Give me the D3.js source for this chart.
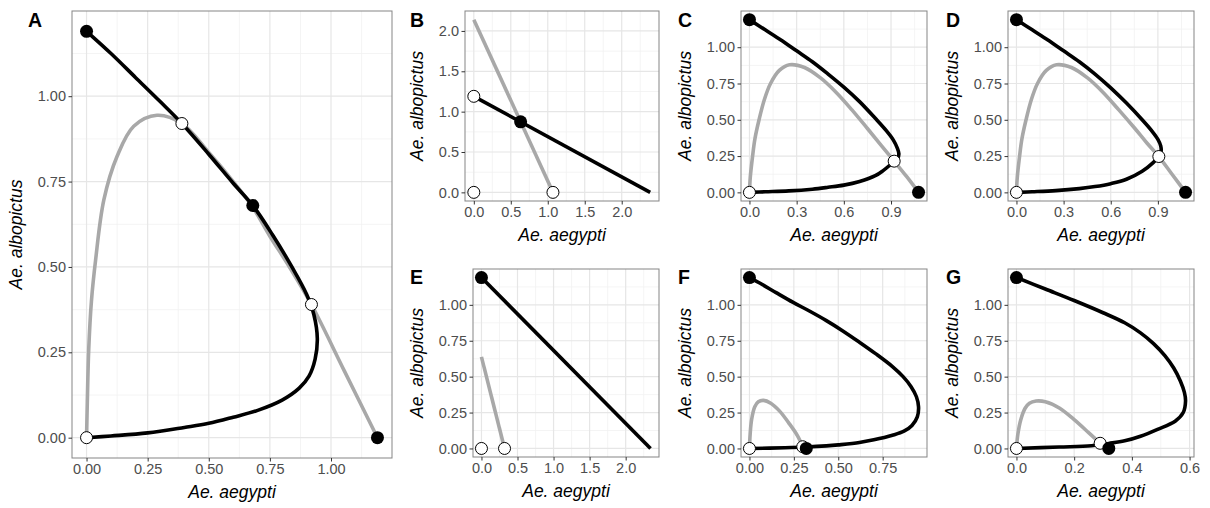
<!DOCTYPE html>
<html>
<head>
<meta charset="utf-8">
<script src="https://cdn.jsdelivr.net/npm/d3@7"></script>
<style>
  body { margin: 0; background: #fff; }
  svg { display: block; font-family: "Liberation Sans", Arial, sans-serif; }
  .tick text { fill: #4d4d4d; font-size: 14.5px; }
  .tick line { stroke: #333; }
</style>
</head>
<body>
<svg id="fig" width="1210" height="508"></svg>
<script>
// ---- values (Ae. aegypti on x, Ae. albopictus on y) ----
const aBlack = [[0,1.19],[0.1,1.125],[0.2,1.055],[0.3,0.985],[0.39,0.92],[0.5,0.83],[0.6,0.745],[0.68,0.68],[0.76,0.595],[0.84,0.5],[0.9,0.42],[0.93,0.36],[0.944,0.29],[0.935,0.23],[0.91,0.18],[0.87,0.145],[0.8,0.11],[0.7,0.08],[0.6,0.06],[0.5,0.042],[0.4,0.03],[0.25,0.014],[0.1,0.005],[0,0]];
const aGray = [[0,0],[0.003,0.1],[0.009,0.26],[0.02,0.4],[0.037,0.52],[0.071,0.697],[0.125,0.824],[0.193,0.912],[0.288,0.944],[0.39,0.92],[0.5,0.835],[0.6,0.75],[0.68,0.675],[0.75,0.59],[0.83,0.5],[0.92,0.39],[1.055,0.195],[1.19,0]];
const aFilled = [[0,1.19],[0.68,0.68],[1.19,0]];
const aOpen = [[0,0],[0.39,0.92],[0.92,0.39]];

const bBlack = [[0,1.19],[2.385,0]];
const bGray = [[0,2.14],[1.07,0]];
const bFilled = [[0.633,0.874]];
const bOpen = [[0,0],[0,1.19],[1.07,0]];

const cBlack = [[0,1.19],[0.1,1.12],[0.2,1.05],[0.3,0.975],[0.4,0.9],[0.5,0.815],[0.6,0.725],[0.7,0.625],[0.8,0.51],[0.87,0.425],[0.915,0.36],[0.94,0.305],[0.95,0.265],[0.942,0.235],[0.92,0.215],[0.89,0.185],[0.85,0.15],[0.8,0.115],[0.7,0.075],[0.6,0.05],[0.5,0.035],[0.4,0.022],[0.25,0.01],[0.1,0.004],[0,0]];
const cGray = [[0,0],[0.005,0.1],[0.02,0.25],[0.035,0.37],[0.061,0.5],[0.095,0.64],[0.134,0.75],[0.19,0.84],[0.255,0.879],[0.35,0.86],[0.45,0.79],[0.55,0.69],[0.65,0.57],[0.75,0.44],[0.84,0.32],[0.92,0.215],[1.0,0.108],[1.075,0]];
const cFilled = [[0,1.19],[1.075,0]];
const cOpen = [[0,0],[0.92,0.215]];

const dBlack = [[0,1.19],[0.1,1.12],[0.2,1.05],[0.3,0.975],[0.4,0.9],[0.5,0.815],[0.6,0.72],[0.7,0.615],[0.8,0.5],[0.86,0.425],[0.9,0.365],[0.918,0.32],[0.92,0.28],[0.906,0.247],[0.87,0.205],[0.8,0.145],[0.7,0.09],[0.6,0.06],[0.5,0.04],[0.4,0.026],[0.25,0.012],[0.1,0.004],[0.01,0]];
const dGray = [[0,0],[0.005,0.1],[0.02,0.25],[0.035,0.37],[0.061,0.5],[0.095,0.64],[0.134,0.75],[0.19,0.84],[0.255,0.879],[0.35,0.86],[0.45,0.79],[0.55,0.69],[0.65,0.57],[0.75,0.445],[0.83,0.34],[0.906,0.247],[0.99,0.125],[1.076,0]];
const dFilled = [[0,1.19],[1.076,0]];
const dOpen = [[0,0],[0.906,0.247]];

const eBlack = [[0,1.19],[2.345,0]];
const eGray = [[0,0.638],[0.32,0]];
const eFilled = [[0,1.19]];
const eOpen = [[0,0],[0.32,0]];

const fBlack = [[0,1.19],[0.06,1.15],[0.15,1.085],[0.246,1.017],[0.34,0.955],[0.433,0.89],[0.53,0.815],[0.619,0.74],[0.71,0.66],[0.805,0.57],[0.865,0.5],[0.91,0.43],[0.94,0.36],[0.952,0.29],[0.945,0.22],[0.915,0.16],[0.87,0.12],[0.805,0.092],[0.7,0.06],[0.619,0.041],[0.5,0.025],[0.433,0.018],[0.32,0.01],[0.2,0.005],[0,0]];
const fGray = [[0,0],[0.004,0.1],[0.012,0.2],[0.03,0.29],[0.05,0.325],[0.079,0.335],[0.12,0.315],[0.17,0.26],[0.22,0.18],[0.27,0.09],[0.3,0.012]];
const fFilled = [[0,1.19],[0.32,0]];
const fOpen = [[0,0],[0.3,0.012]];

const gBlack = [[0,1.19],[0.1,1.11],[0.2,1.03],[0.3,0.945],[0.375,0.875],[0.43,0.805],[0.475,0.73],[0.515,0.645],[0.545,0.56],[0.568,0.47],[0.582,0.39],[0.586,0.33],[0.578,0.25],[0.55,0.19],[0.489,0.133],[0.43,0.085],[0.375,0.053],[0.32,0.035],[0.26,0.019],[0.148,0.01],[0,0]];
const gGray = [[0,0],[0.005,0.1],[0.015,0.2],[0.03,0.28],[0.045,0.315],[0.068,0.33],[0.1,0.325],[0.15,0.28],[0.2,0.2],[0.25,0.11],[0.29,0.036]];
const gFilled = [[0,1.19],[0.32,0]];
const gOpen = [[0,0],[0.29,0.036]];

// tick labels
const ticks2 = [0, 0.25, 0.5, 0.75, 1.0];   // y for A, C-G
const ticksAx = [0, 0.25, 0.5, 0.75, 1.0];
const ticksB = [0, 0.5, 1.0, 1.5, 2.0];     // B x/y, E x
const ticksCD = [0, 0.3, 0.6, 0.9];
const ticksF = [0, 0.25, 0.5, 0.75];
const ticksG = [0, 0.2, 0.4, 0.6];

const xTitle = "Ae. aegypti";
const yTitle = "Ae. albopictus";

// ---- layout (pixel boxes of each panel: left, right, top, bottom) ----
const panels = [
  {id: "A", black: aBlack, gray: aGray, filled: aFilled, open: aOpen, xt: ticksAx, yt: ticks2, fx: ".2f", fy: ".2f", box: [72, 392, 11, 458], letter: [28, 27]},
  {id: "B", black: bBlack, gray: bGray, filled: bFilled, open: bOpen, xt: ticksB, yt: ticksB, fx: ".1f", fy: ".1f", box: [465, 659, 11, 201], letter: [410, 27]},
  {id: "C", black: cBlack, gray: cGray, filled: cFilled, open: cOpen, xt: ticksCD, yt: ticks2, fx: ".1f", fy: ".2f", box: [741, 927, 11, 201], letter: [678, 27]},
  {id: "D", black: dBlack, gray: dGray, filled: dFilled, open: dOpen, xt: ticksCD, yt: ticks2, fx: ".1f", fy: ".2f", box: [1008, 1194, 11, 201], letter: [946, 27]},
  {id: "E", black: eBlack, gray: eGray, filled: eFilled, open: eOpen, xt: ticksB, yt: ticks2, fx: ".1f", fy: ".2f", box: [473, 659, 269, 457], letter: [410, 284]},
  {id: "F", black: fBlack, gray: fGray, filled: fFilled, open: fOpen, xt: ticksF, yt: ticks2, fx: ".2f", fy: ".2f", box: [741, 927, 269, 457], letter: [678, 284]},
  {id: "G", black: gBlack, gray: gGray, filled: gFilled, open: gOpen, xt: ticksG, yt: ticks2, fx: ".1f", fy: ".2f", box: [1008, 1194, 269, 457], letter: [946, 284]}
];

const svg = d3.select("#fig");
const defs = svg.append("defs");

// minor breaks halfway between majors, as ggplot does
function minors(t, dom) {
  const step = t[1] - t[0];
  const out = [];
  for (let v = t[0] - step / 2; v <= dom[1] + 1e-9; v += step) {
    if (v >= dom[0] && v <= dom[1]) out.push(v);
  }
  return out;
}

function drawPanel(p) {
  const [x0, x1, y0, y1] = p.box;
  const all = [...p.black, ...p.gray, ...p.filled, ...p.open];
  const ex = d3.extent(all, d => d[0]);
  const ey = d3.extent(all, d => d[1]);
  const padX = (ex[1] - ex[0]) * 0.05, padY = (ey[1] - ey[0]) * 0.05;
  const x = d3.scaleLinear().domain([ex[0] - padX, ex[1] + padX]).range([x0, x1]);
  const y = d3.scaleLinear().domain([ey[0] - padY, ey[1] + padY]).range([y1, y0]);

  const g = svg.append("g");
  defs.append("clipPath").attr("id", "clip" + p.id)
    .append("rect").attr("x", x0).attr("y", y0).attr("width", x1 - x0).attr("height", y1 - y0);

  g.append("rect").attr("x", x0).attr("y", y0).attr("width", x1 - x0).attr("height", y1 - y0).attr("fill", "#fff");

  // grid
  const grid = g.append("g");
  grid.selectAll(".mx").data(minors(p.xt, x.domain())).join("line")
    .attr("x1", d => x(d)).attr("x2", d => x(d)).attr("y1", y0).attr("y2", y1)
    .attr("stroke", "#f1f1f1").attr("stroke-width", 0.8);
  grid.selectAll(".my").data(minors(p.yt, y.domain())).join("line")
    .attr("y1", d => y(d)).attr("y2", d => y(d)).attr("x1", x0).attr("x2", x1)
    .attr("stroke", "#f1f1f1").attr("stroke-width", 0.8);
  grid.selectAll(".Mx").data(p.xt).join("line")
    .attr("x1", d => x(d)).attr("x2", d => x(d)).attr("y1", y0).attr("y2", y1)
    .attr("stroke", "#e6e6e6").attr("stroke-width", 1.2);
  grid.selectAll(".My").data(p.yt).join("line")
    .attr("y1", d => y(d)).attr("y2", d => y(d)).attr("x1", x0).attr("x2", x1)
    .attr("stroke", "#e6e6e6").attr("stroke-width", 1.2);

  // curves
  const line = d3.line().x(d => x(d[0])).y(d => y(d[1])).curve(d3.curveCatmullRom.alpha(0.5));
  const marks = g.append("g").attr("clip-path", `url(#clip${p.id})`);
  marks.append("path").datum(p.gray).attr("d", line)
    .attr("fill", "none").attr("stroke", "#a8a8a8").attr("stroke-width", 3.6).attr("stroke-linecap", "butt");
  marks.append("path").datum(p.black).attr("d", line)
    .attr("fill", "none").attr("stroke", "#000").attr("stroke-width", 3.6).attr("stroke-linecap", "butt");

  marks.selectAll(".open").data(p.open).join("circle")
    .attr("cx", d => x(d[0])).attr("cy", d => y(d[1])).attr("r", 6)
    .attr("fill", "#fff").attr("stroke", "#000").attr("stroke-width", 1);
  marks.selectAll(".filled").data(p.filled).join("circle")
    .attr("cx", d => x(d[0])).attr("cy", d => y(d[1])).attr("r", 6.5)
    .attr("fill", "#000");

  // border
  g.append("rect").attr("x", x0).attr("y", y0).attr("width", x1 - x0).attr("height", y1 - y0)
    .attr("fill", "none").attr("stroke", "#858585").attr("stroke-width", 1);

  // axes
  const xAxis = g.append("g").attr("transform", `translate(0,${y1})`)
    .call(d3.axisBottom(x).tickValues(p.xt).tickFormat(d3.format(p.fx)).tickSize(3.5).tickPadding(2.5));
  const yAxis = g.append("g").attr("transform", `translate(${x0},0)`)
    .call(d3.axisLeft(y).tickValues(p.yt).tickFormat(d3.format(p.fy)).tickSize(3.5).tickPadding(2.5));
  xAxis.select(".domain").remove();
  yAxis.select(".domain").remove();

  // titles
  g.append("text").attr("x", (x0 + x1) / 2).attr("y", y1 + 40)
    .attr("text-anchor", "middle").attr("font-size", 17.5).attr("font-style", "italic")
    .attr("fill", "#000").text(xTitle);

  let maxW = 0;
  yAxis.selectAll(".tick text").each(function() { maxW = Math.max(maxW, this.getComputedTextLength()); });
  const ty = x0 - 6 - maxW - 16;
  g.append("text").attr("transform", `translate(${ty},${(y0 + y1) / 2}) rotate(-90)`)
    .attr("text-anchor", "middle").attr("font-size", 17.5).attr("font-style", "italic")
    .attr("fill", "#000").text(yTitle);

  g.append("text").attr("x", p.letter[0]).attr("y", p.letter[1])
    .attr("font-size", 19.5).attr("font-weight", "bold").attr("fill", "#000").text(p.id);
}

panels.forEach(drawPanel);
</script>
</body>
</html>
